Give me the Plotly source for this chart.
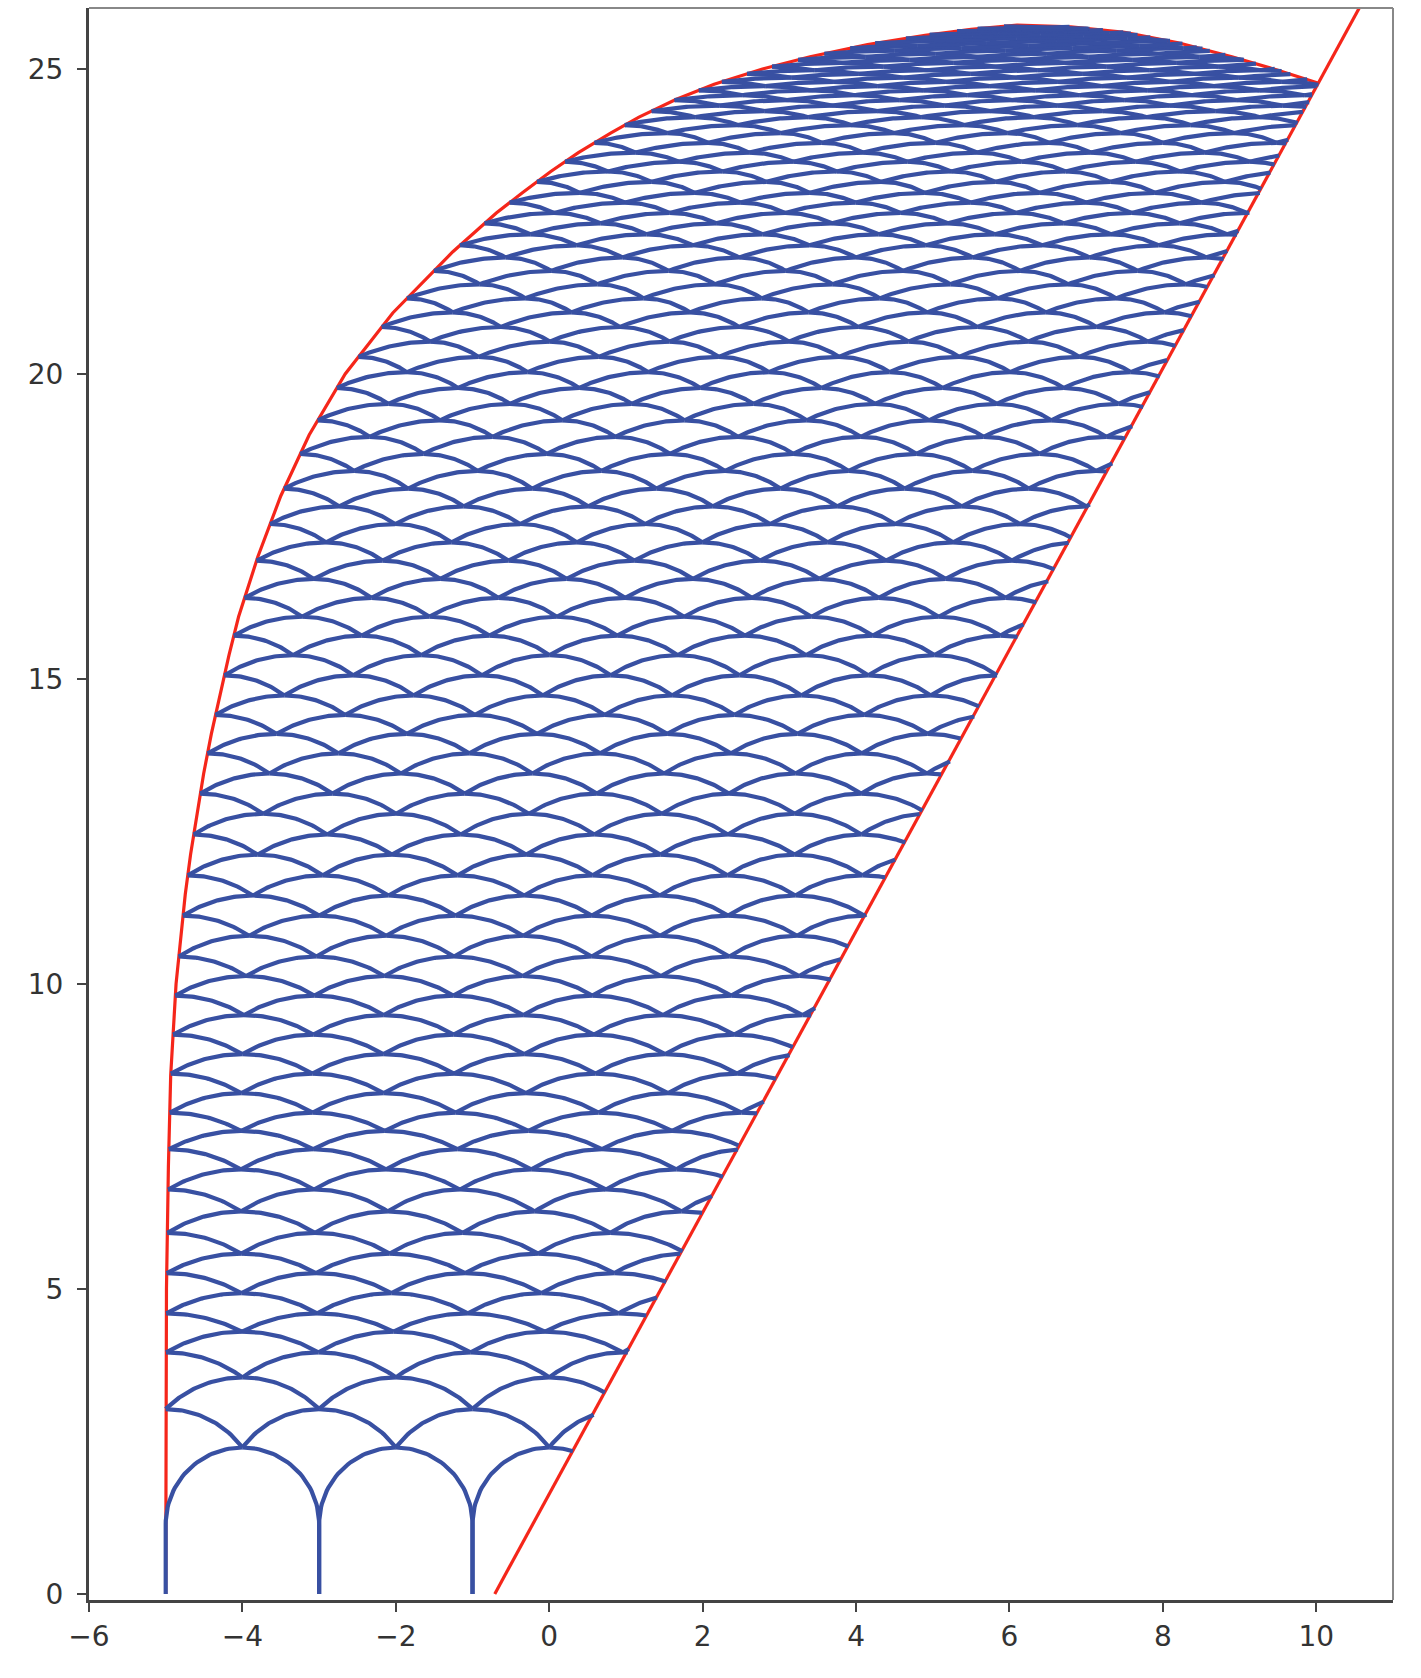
import numpy as np
import plotly.graph_objects as go

# ---------------- data ----------------
# red boundary curve (left side, over the top, down to meet the right edge)
boundary_x = [-5.0, -5.0, -4.99, -4.965, -4.935, -4.865, -4.805, -4.745, -4.675, -4.595, -4.505,
              -4.405, -4.295, -4.175, -4.05, -3.8, -3.5, -3.13, -2.66, -2.04, -1.26, -1.03,
              -0.69, -0.35, 0.02, 0.38, 0.8, 1.17, 1.65, 2.15, 2.78, 3.4, 4.15, 4.9, 5.5, 6.1,
              6.8, 7.5, 8.2, 8.9, 9.5, 10.02]
boundary_y = [0.0, 3.0, 5.0, 7.0, 8.5, 10.0, 10.78, 11.47, 12.13, 12.79, 13.45,
              14.1, 14.73, 15.39, 16.02, 17.0, 18.0, 19.0, 20.0, 21.0, 22.0, 22.26,
              22.64, 22.97, 23.32, 23.63, 23.95, 24.21, 24.5, 24.75, 25.0, 25.2, 25.4, 25.55, 25.65, 25.72,
              25.69, 25.6, 25.43, 25.2, 24.98, 24.77]
# red straight edge on the right
edge_x = [-0.71, 10.56]
edge_y = [0.0, 26.0]
# levels of the successive rows of arcs
row_y = [0.0, 2.4, 3.03, 3.55, 3.96, 4.3, 4.6, 4.93, 5.26, 5.58, 5.92, 6.27, 6.63, 6.96, 7.29,
         7.59, 7.89, 8.21, 8.53, 8.85, 9.17, 9.49, 9.81, 10.13, 10.45, 10.79, 11.12, 11.45,
         11.78, 12.12, 12.45, 12.79, 13.12, 13.45, 13.78, 14.1, 14.41, 14.73, 15.06, 15.39,
         15.71, 16.02, 16.33, 16.64, 16.94, 17.24, 17.54, 17.83, 18.12, 18.41, 18.69, 18.97,
         19.24, 19.51, 19.77, 20.03, 20.28, 20.53, 20.77, 21.01, 21.24, 21.47, 21.69, 21.91,
         22.11, 22.29, 22.47, 22.64, 22.81, 22.97, 23.15, 23.32, 23.48, 23.63, 23.79, 23.95,
         24.08, 24.21, 24.31, 24.4, 24.49, 24.57, 24.65, 24.72, 24.79, 24.86, 24.92, 24.98,
         25.04, 25.1, 25.15, 25.2, 25.25, 25.3, 25.34, 25.38, 25.42, 25.46, 25.5, 25.53,
         25.56, 25.59, 25.62, 25.64, 25.66, 25.68, 25.7]
# half width of one arch, by height
halfwidth_at_y = [0.0, 3.5, 8.0, 14.0, 19.0, 22.0, 25.7]
halfwidth = [1.0, 1.0, 0.93, 0.85, 0.8, 0.76, 0.72]

x_ticks = [-6, -4, -2, 0, 2, 4, 6, 8, 10]
y_ticks = [0, 5, 10, 15, 20, 25]

# ---------------- geometry helpers ----------------
X_RANGE = [-6.0, 11.0]
Y_RANGE = [-0.1, 26.0]
W, H = 1421, 1678
ML, MR, MT, MB = 89, 28, 8, 78
SX = (W - ML - MR) / (X_RANGE[1] - X_RANGE[0])
SY = (H - MT - MB) / (Y_RANGE[1] - Y_RANGE[0])

bx = np.array(boundary_x)
by = np.array(boundary_y)
ip = int(np.argmax(by))
left_x, left_y = bx[:ip + 1], by[:ip + 1]
right_x, right_y = bx[ip:][::-1], by[ip:][::-1]
slope_inv = (edge_x[1] - edge_x[0]) / (edge_y[1] - edge_y[0])


def x_left(y):
    return np.interp(y, left_y, left_x)


def x_right(y):
    y = np.asarray(y, dtype=float)
    line = edge_x[0] + (y - edge_y[0]) * slope_inv
    rb = np.interp(y, right_y, right_x)
    return np.where(y >= right_y[0], np.minimum(line, rb), line)


def half_arc(xq, yq, xp, yp, n=36):
    """arc from apex (xp, yp) (horizontal tangent) down to (xq, yq)"""
    dx = abs(xp - xq) * SX
    dy = (yp - yq) * SY
    sgn = 1.0 if xq >= xp else -1.0
    if dx < 1e-9:
        return np.array([xp, xq]), np.array([yp, yq])
    if dy <= dx:
        R = (dx * dx + dy * dy) / (2 * dy)
        tmax = np.arcsin(min(1.0, dx / R))
        t = np.linspace(0, tmax, n)
        X = xp + sgn * R * np.sin(t) / SX
        Y = yp - R * (1 - np.cos(t)) / SY
        return X, Y
    R = dx
    t = np.linspace(0, np.pi / 2, n)
    X = xp + sgn * R * np.sin(t) / SX
    Y = yp - R * (1 - np.cos(t)) / SY
    X = np.append(X, xq)
    Y = np.append(Y, yq)
    return X, Y


rows = []
for k, yk in enumerate(row_y):
    w = float(np.interp(yk, halfwidth_at_y, halfwidth))
    xl = float(x_left(yk))
    xr = float(x_right(yk))
    off = 0.0 if k % 2 == 0 else w
    pts = []
    x = xl + off
    while x <= xr + 3 * w:
        pts.append(x)
        x += 2 * w
    rows.append(np.array(pts))

TOL = 0.02
blue_x, blue_y = [], []
for k in range(1, len(row_y)):
    below = rows[k - 1]
    for p in rows[k]:
        lefts = below[below < p - 1e-9]
        rights = below[below > p + 1e-9]
        for q in ([lefts.max()] if len(lefts) else []) + ([rights.min()] if len(rights) else []):
            X, Y = half_arc(q, row_y[k - 1], p, row_y[k])
            inside = (X >= x_left(Y) - TOL) & (X <= x_right(Y) + TOL)
            run_x, run_y = [], []
            for xi, yi, ok in zip(X, Y, inside):
                if ok:
                    run_x.append(float(xi)); run_y.append(float(yi))
                elif run_x:
                    blue_x += run_x + [None]; blue_y += run_y + [None]
                    run_x, run_y = [], []
            if len(run_x) > 1:
                blue_x += run_x + [None]; blue_y += run_y + [None]

RED = "#f5261a"
BLUE = "#3850a2"

fig = go.Figure()
fig.add_trace(go.Scatter(x=boundary_x, y=boundary_y, mode="lines",
                         line=dict(color=RED, width=3.2), hoverinfo="skip"))
fig.add_trace(go.Scatter(x=edge_x, y=edge_y, mode="lines",
                         line=dict(color=RED, width=3.2), hoverinfo="skip"))
fig.add_trace(go.Scatter(x=blue_x, y=blue_y, mode="lines",
                         line=dict(color=BLUE, width=4.2), hoverinfo="skip"))

tickfont = dict(family="DejaVu Sans", size=28, color="#333333")
fig.update_xaxes(range=X_RANGE, tickvals=x_ticks,
                 ticktext=[str(v).replace("-", "\u2212") for v in x_ticks],
                 ticks="outside", ticklen=9, tickwidth=2, tickcolor="#444444",
                 showline=True, linewidth=3, linecolor="#444444",
                 showgrid=False, zeroline=False, tickfont=tickfont)
fig.update_yaxes(range=Y_RANGE, tickvals=y_ticks,
                 ticktext=[str(v) for v in y_ticks],
                 ticks="outside", ticklen=9, tickwidth=2, tickcolor="#444444",
                 showline=True, linewidth=3, linecolor="#444444", ticklabelstandoff=8,
                 showgrid=False, zeroline=False, tickfont=tickfont)
fig.add_shape(type="line", xref="paper", yref="paper", x0=0, x1=1, y0=1, y1=1,
              line=dict(color="#888888", width=2))
fig.add_shape(type="line", xref="paper", yref="paper", x0=1, x1=1, y0=0, y1=1,
              line=dict(color="#888888", width=2))
fig.update_layout(width=W, height=H, margin=dict(l=ML, r=MR, t=MT, b=MB),
                  plot_bgcolor="white", paper_bgcolor="white", showlegend=False)

fig.write_html("out.html", config={"displayModeBar": False},
               post_script="document.body.style.margin='0';document.body.style.overflow='hidden';")
